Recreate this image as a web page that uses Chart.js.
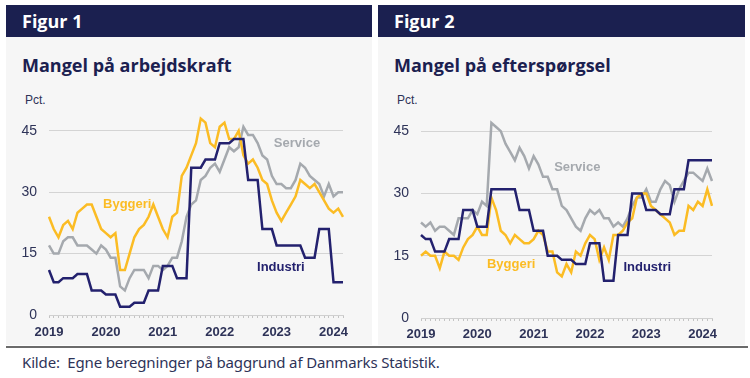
<!DOCTYPE html>
<html>
<head>
<meta charset="utf-8">
<script src="https://cdn.jsdelivr.net/npm/chart.js@4.4.1/dist/chart.umd.min.js"></script>
<style>
  body { margin:0; width:750px; height:378px; background:#fff; position:relative; overflow:hidden; }
  .panel { position:absolute; top:5px; height:340px; background:#f6f6f6; }
  .head { height:32px; background:#1b2050; color:#fff; font:700 18px "Open Sans", Lato, sans-serif; line-height:32px; padding-left:16px; }
  .title { position:absolute; left:16px; top:48px; color:#1b2050; font:700 18px "Open Sans", Lato, sans-serif; }
  .pct { position:absolute; left:19px; top:88px; color:#2e3358; font:12px "Liberation Sans", Arial, sans-serif; }
  canvas { position:absolute; left:0; top:85px; }
  .rule { position:absolute; left:6px; top:346px; width:742px; height:2px; background:#6b6b6b; }
  .kilde { position:absolute; left:22px; top:352px; color:#2e3358; font:15px "Noto Sans", sans-serif; letter-spacing:-0.15px; }
</style>
</head>
<body>
<div class="panel" style="left:6px;width:366px">
  <div class="head">Figur 1</div>
  <div class="title">Mangel på arbejdskraft</div>
  <div class="pct">Pct.</div>
  <canvas id="c1" width="366" height="255"></canvas>
</div>
<div class="panel" style="left:378px;width:367px">
  <div class="head">Figur 2</div>
  <div class="title">Mangel på efterspørgsel</div>
  <div class="pct">Pct.</div>
  <canvas id="c2" width="367" height="255"></canvas>
</div>
<div class="rule"></div>
<div class="kilde">Kilde:&nbsp; Egne beregninger på baggrund af Danmarks Statistik.</div>

<script>
// Data: monthly, jan 2019 - mar 2024
const years = ['2019','2020','2021','2022','2023','2024'];
const nMonths = 63;
const yTicks = [0, 15, 30, 45];

// Figur 1 - arbejdskraft
const arbIndustri = [11,8,8,9,9,9,10,10,10,6,6,6,5,5,5,2,2,2,3,3,3,6,6,6,12,12,12,9,9,9,
  36,36,36,38,38,38,42,42,42,43,43,43,33,33,33,21,21,21,17,17,17,17,17,17,14,14,14,21,21,21,8,8,8];
const arbService = [17,15,15,18,19,19,17,17,17,16,15,17,16,14,14,7,6,9,11,11,11,9,12,12,11,12,14,14,18,24,
  27,28,33,34,36,37,35,38,41,40,41,46,44,44,42,39,38,34,32,32,31,31,33,37,36,34,33,32,29,32,29,30,30];
const arbByggeri = [24,21,19,22,23,21,25,26,27,27,24,21,20,19,20,11,11,15,19,21,22,24,27,24,21,19,24,25,34,36,
  39,42,48,47,42,41,46,47,43,43,45,39,37,38,36,33,32,28,25,23,25,27,29,33,32,31,32,30,28,26,25,26,24];

// Figur 2 - efterspoergsel
const eftIndustri = [20,19,19,16,16,16,19,19,19,26,26,26,22,22,22,31,31,31,31,31,31,26,26,26,21,21,21,15,15,15,
  14,14,14,13,13,13,18,18,18,9,9,9,20,20,20,30,30,30,26,26,26,25,25,25,31,31,31,38,38,38,38,38,38];
const eftService = [23,22,23,21,22,22,21,20,24,24,24,26,25,28,27,47,46,45,42,40,38,41,39,36,39,37,34,34,31,31,
  27,26,24,22,21,24,26,25,26,24,24,22,23,22,24,27,29,29,31,28,28,31,33,32,28,31,33,35,35,34,33,36,33];
const eftByggeri = [15,16,15,15,12,16,15,15,14,17,19,20,22,20,20,29,26,21,20,18,20,19,18,18,19,21,20,16,16,11,
  10,13,11,16,15,18,20,19,14,17,14,20,20,21,23,24,29,30,30,27,26,25,24,23,20,21,21,27,26,28,27,31,27];

// month categories
const months = [];
years.forEach(y => { for (let m = 1; m <= 12; m++) months.push(y + '-' + String(m).padStart(2, '0')); });
months.length = nMonths;

const NAVY = '#23216e', GREY = '#a5a9ae', YELLOW = '#fbbc24', TXT = '#2e3358';

// series name labels, placed in data units (month index, pct)
const labelsFig1 = [
  { text:'Service', m:52.3, v:41.9, color:GREY },
  { text:'Byggeri', m:16.5, v:27.1, color:YELLOW },
  { text:'Industri', m:48.9, v:11.6, color:NAVY }
];
const labelsFig2 = [
  { text:'Service', m:33.3, v:36.3, color:GREY },
  { text:'Byggeri', m:19.2, v:13.0, color:YELLOW },
  { text:'Industri', m:48.2, v:12.3, color:NAVY }
];

const seriesLabels = {
  id: 'seriesLabels',
  afterDatasetsDraw(chart, args, opts) {
    const { ctx, scales: { x, y } } = chart;
    ctx.save();
    ctx.font = 'bold 13px "Liberation Sans", Arial, sans-serif';
    ctx.textAlign = 'center';
    ctx.textBaseline = 'middle';
    opts.items.forEach(l => {
      ctx.fillStyle = l.color;
      ctx.fillText(l.text, x.getPixelForValue(l.m), y.getPixelForValue(l.v));
    });
    ctx.restore();
  }
};

function makeChart(id, ind, ser, byg, items, lay) {
  const line = (data, color) => ({ data, borderColor: color, borderWidth: 2.5, pointRadius: 0, tension: 0, fill: false });
  return new Chart(document.getElementById(id), {
    type: 'line',
    data: {
      labels: months,
      datasets: [ line(ind, NAVY), line(byg, YELLOW), line(ser, GREY) ]
    },
    options: {
      responsive: false,
      devicePixelRatio: 1,
      animation: false,
      layout: { padding: { top: lay.top, right: lay.right, left: 0, bottom: 0 } },
      plugins: { legend: { display: false }, tooltip: { enabled: false }, seriesLabels: { items } },
      scales: {
        x: {
          afterFit: s => { s.height = lay.xh; },
          grid: { drawOnChartArea: false, tickLength: 3, color: '#c4c4c4' },
          border: { color: '#d0d0d0' },
          ticks: {
            autoSkip: false, maxRotation: 0, padding: lay.tp,
            color: TXT, font: { family: '"Liberation Sans", Arial, sans-serif', size: 13, weight: 'bold' },
            callback: (v, i) => months[i].endsWith('-01') ? months[i].slice(0, 4) : ''
          }
        },
        y: {
          min: 0, max: 50,
          afterFit: s => { s.width = 43; },
          afterBuildTicks: s => { s.ticks = yTicks.map(v => ({ value: v })); },
          grid: { drawTicks: false, color: c => c.tick.value === 0 ? 'rgba(0,0,0,0)' : '#d4d4d4', lineWidth: 1 },
          border: { display: false },
          ticks: { padding: 12, color: TXT, font: { family: '"Liberation Sans", Arial, sans-serif', size: 14 } }
        }
      }
    },
    plugins: [seriesLabels]
  });
}

makeChart('c1', arbIndustri, arbService, arbByggeri, labelsFig1, { top: 18, right: 29, xh: 30, tp: 7 });
makeChart('c2', eftIndustri, eftService, eftByggeri, labelsFig2, { top: 17, right: 33, xh: 27, tp: 6 });
</script>
</body>
</html>
